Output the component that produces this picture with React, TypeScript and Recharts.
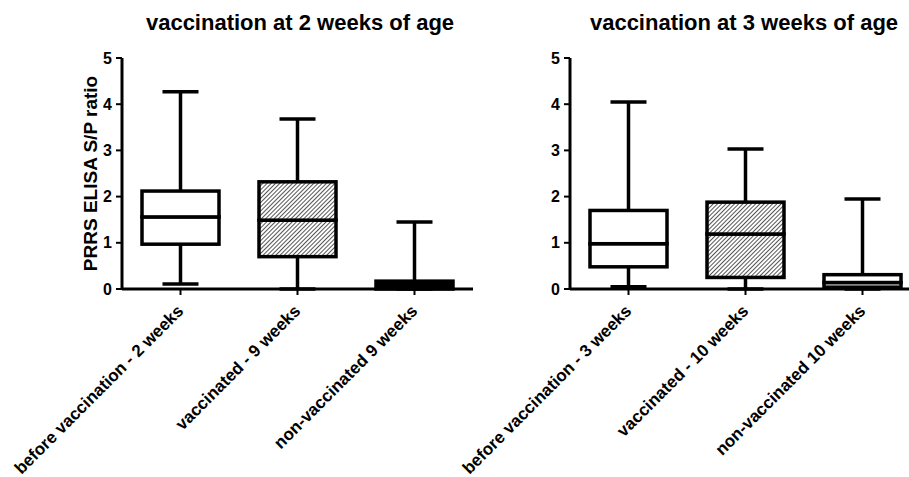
import React from 'react';
import { BarChart, Bar, XAxis, YAxis } from 'recharts';

// vaccination at 2 weeks of age
const groupsA = ['before vaccination - 2 weeks', 'vaccinated - 9 weeks', 'non-vaccinated 9 weeks'];
const minA = [0.11, 0, 0];
const q1A = [0.97, 0.7, 0];
const medianA = [1.56, 1.49, 0];
const q3A = [2.12, 2.32, 0.17];
const maxA = [4.27, 3.68, 1.45];

// vaccination at 3 weeks of age
const groupsB = ['before vaccination - 3 weeks', 'vaccinated - 10 weeks', 'non-vaccinated 10 weeks'];
const minB = [0.05, 0, 0];
const q1B = [0.48, 0.25, 0.04];
const medianB = [0.98, 1.19, 0.14];
const q3B = [1.7, 1.88, 0.31];
const maxB = [4.05, 3.03, 1.95];

const yTicks = [0, 1, 2, 3, 4, 5];

const FONT = '"Liberation Sans", Arial, Helvetica, sans-serif';
const LINE = 3.5;
const CAP = 18;

const buildRows = (groups: string[], mn: number[], q1: number[], med: number[], q3: number[], mx: number[]) =>
  groups.map((name, i) => ({
    name,
    base: mn[i],
    lowWhisker: q1[i] - mn[i],
    lowBox: med[i] - q1[i],
    highBox: q3[i] - med[i],
    highWhisker: mx[i] - q3[i],
  }));

const XTick = (props: any) => {
  const { x, y, payload } = props;
  return (
    <g transform={`translate(${x + 4},${y + 15})`}>
      <text
        x={0}
        y={0}
        transform="rotate(-45)"
        textAnchor="end"
        fill="#000"
        fontSize={17}
        fontWeight="bold"
        fontFamily={FONT}
      >
        {payload.value}
      </text>
    </g>
  );
};

const lowWhiskerShape = (props: any) => {
  const { x, y, width, height } = props;
  const cx = x + width / 2;
  return (
    <g>
      <line x1={cx} x2={cx} y1={y} y2={y + height} stroke="#000" strokeWidth={LINE} />
      <line x1={cx - CAP} x2={cx + CAP} y1={y + height} y2={y + height} stroke="#000" strokeWidth={LINE} />
    </g>
  );
};

const highWhiskerShape = (props: any) => {
  const { x, y, width, height } = props;
  const cx = x + width / 2;
  return (
    <g>
      <line x1={cx} x2={cx} y1={y} y2={y + height} stroke="#000" strokeWidth={LINE} />
      <line x1={cx - CAP} x2={cx + CAP} y1={y} y2={y} stroke="#000" strokeWidth={LINE} />
    </g>
  );
};

const boxShape = (fills: string[]) => (props: any) => {
  const { x, y, width, height, index } = props;
  if (!height || height <= 0) return <g />;
  return <rect x={x} y={y} width={width} height={height} fill={fills[index]} stroke="#000" strokeWidth={LINE} />;
};

interface PanelProps {
  rows: any[];
  id: string;
  fills: string[];
  left: number;
  width: number;
  marginLeft: number;
  showLabel: boolean;
}

const Panel: React.FC<PanelProps> = ({ rows, id, fills, left, width, marginLeft, showLabel }) => (
  <div style={{ position: 'absolute', left, top: 0 }}>
    <BarChart
      width={width}
      height={477}
      data={rows}
      barSize={77}
      margin={{ top: 58, right: 7, bottom: 8, left: marginLeft }}
    >
      <defs>
        <pattern id={id} width={3} height={3} patternUnits="userSpaceOnUse" patternTransform="rotate(45)">
          <rect width={3} height={3} fill="#fff" />
          <line x1={0.5} y1={0} x2={0.5} y2={3} stroke="#555" strokeWidth={1} />
        </pattern>
      </defs>
      <XAxis
        dataKey="name"
        interval={0}
        height={180}
        tick={<XTick />}
        tickSize={6}
        axisLine={{ stroke: '#000', strokeWidth: 3 }}
        tickLine={{ stroke: '#000', strokeWidth: 2 }}
      />
      <YAxis
        width={60}
        domain={[0, 5]}
        ticks={yTicks}
        tickSize={6}
        tickMargin={4}
        axisLine={{ stroke: '#000', strokeWidth: 3 }}
        tickLine={{ stroke: '#000', strokeWidth: 2 }}
        tick={{ fill: '#000', fontSize: 16, fontWeight: 'bold', fontFamily: FONT }}
        label={
          showLabel
            ? {
                value: 'PRRS ELISA S/P ratio',
                angle: -90,
                position: 'insideLeft',
                offset: 28,
                fill: '#000',
                style: { textAnchor: 'middle', fontSize: 19, fontWeight: 'bold', fontFamily: FONT },
              }
            : undefined
        }
      />
      <Bar dataKey="base" stackId="s" fill="none" isAnimationActive={false} />
      <Bar dataKey="lowWhisker" stackId="s" shape={lowWhiskerShape} isAnimationActive={false} />
      <Bar dataKey="lowBox" stackId="s" shape={boxShape(fills)} isAnimationActive={false} />
      <Bar dataKey="highBox" stackId="s" shape={boxShape(fills)} isAnimationActive={false} />
      <Bar dataKey="highWhisker" stackId="s" shape={highWhiskerShape} isAnimationActive={false} />
    </BarChart>
  </div>
);

const titleStyle: React.CSSProperties = {
  position: 'absolute',
  top: 12,
  width: 400,
  textAlign: 'center',
  fontFamily: FONT,
  fontWeight: 'bold',
  fontSize: 22,
  lineHeight: '22px',
  color: '#000',
  whiteSpace: 'nowrap',
};

export default function App() {
  const rowsA = buildRows(groupsA, minA, q1A, medianA, q3A, maxA);
  const rowsB = buildRows(groupsB, minB, q1B, medianB, q3B, maxB);
  return (
    <div
      style={{
        position: 'absolute',
        left: 0,
        top: 0,
        width: 909,
        height: 477,
        overflow: 'hidden',
        background: '#fff',
      }}
    >
      <div style={{ ...titleStyle, left: 300 - 200 }}>vaccination at 2 weeks of age</div>
      <div style={{ ...titleStyle, left: 744 - 200 }}>vaccination at 3 weeks of age</div>
      <Panel
        rows={rowsA}
        id="hatchA"
        fills={['#fff', 'url(#hatchA)', '#000']}
        left={0}
        width={480}
        marginLeft={62}
        showLabel
      />
      <Panel
        rows={rowsB}
        id="hatchB"
        fills={['#fff', 'url(#hatchB)', '#fff']}
        left={420}
        width={508}
        marginLeft={90}
        showLabel={false}
      />
    </div>
  );
}
